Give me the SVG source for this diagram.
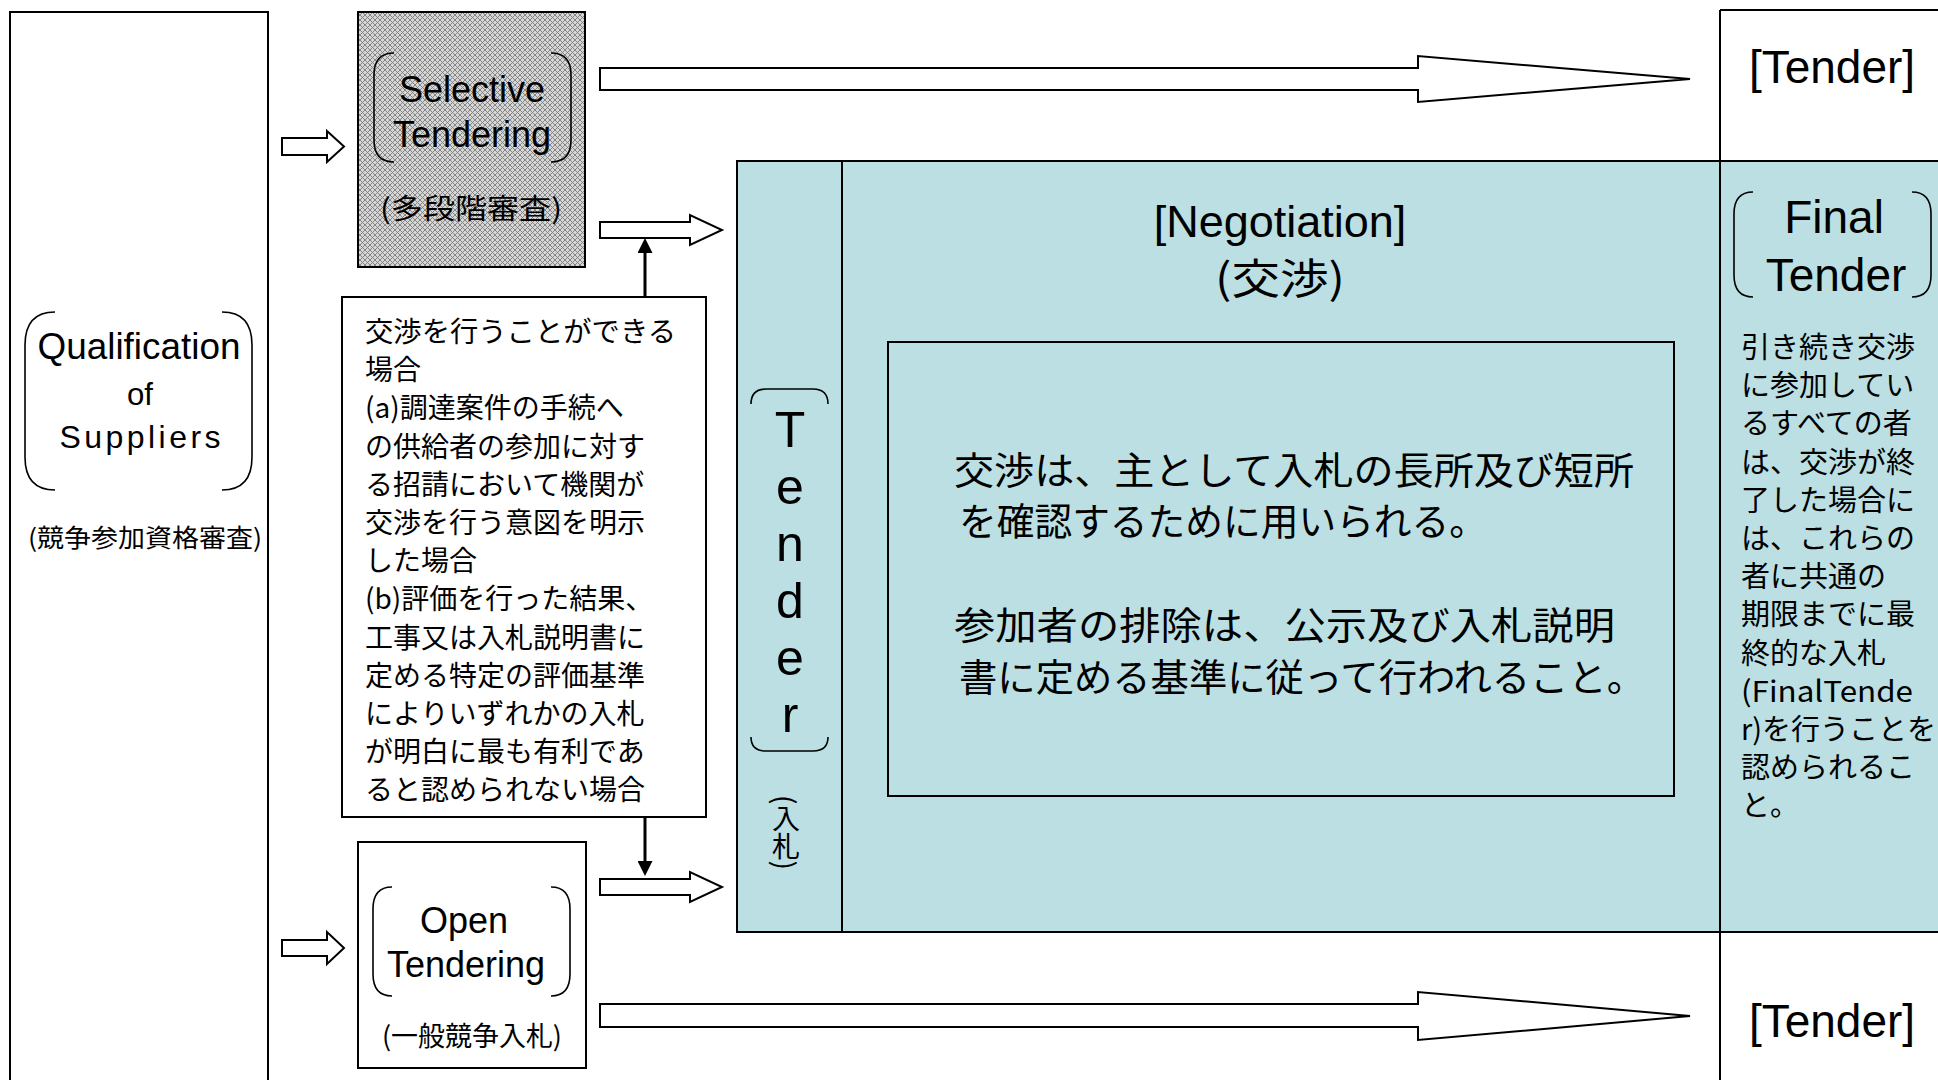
<svg xmlns="http://www.w3.org/2000/svg" width="1938" height="1080" viewBox="0 0 1938 1080">
<defs>
<pattern id="hatch" width="5" height="5" patternUnits="userSpaceOnUse">
<rect width="5" height="5" fill="#d6d6d6"/>
<path d="M0,0 L5,5 M5,0 L0,5" stroke="#7c7c7c" stroke-width="0.9"/>
</pattern>
<marker id="ah" viewBox="0 0 15 15" refX="5" refY="7.5" markerWidth="15" markerHeight="15" markerUnits="userSpaceOnUse" orient="auto"><path d="M0,0 L15,7.5 L0,15 z" fill="#000"/></marker>
</defs>
<style>
.box{fill:#fff;stroke:#000;stroke-width:2}
.ln{fill:none;stroke:#000;stroke-width:2}
.br{fill:none;stroke:#000;stroke-width:1.6}
.blk{fill:#fff;stroke:#000;stroke-width:2;stroke-linejoin:miter}
.en{font-family:"Liberation Sans",Arial,sans-serif;fill:#000}
.jp{font-family:"Noto Sans CJK JP","Noto Sans CJK SC",sans-serif;fill:#000}
.mid{text-anchor:middle}
</style>
<rect width="1938" height="1080" fill="#fff"/>

<g id="negotiation">
<rect x="737" y="161" width="1220" height="771" fill="#bbdfe2" stroke="#000" stroke-width="2"/>
<line class="ln" x1="842" y1="161" x2="842" y2="932"/>
<text class="en mid" x="1280" y="237" font-size="45">[Negotiation]</text>
<text class="jp mid" x="1280" y="294" font-size="42" textLength="130" lengthAdjust="spacingAndGlyphs">(交渉)</text>
</g>

<g id="tender-column">
<path class="br" d="M751,404 Q751,389 766,389 H813 Q828,389 828,404"/>
<path class="br" d="M751,737 Q751,751 766,751 H813 Q828,751 828,737"/>
<text class="en mid" x="790" font-size="50"><tspan x="790" y="447">T</tspan><tspan x="790" y="504">e</tspan><tspan x="790" y="561">n</tspan><tspan x="790" y="618">d</tspan><tspan x="790" y="675">e</tspan><tspan x="790" y="732">r</tspan></text>
<text class="jp" x="786" y="795" font-size="28" writing-mode="vertical-rl">(入札)</text>
</g>

<g id="negotiation-rules">
<rect x="888" y="342" width="786" height="454" fill="none" stroke="#000" stroke-width="2"/>
<text class="jp" font-size="38">
<tspan x="954" y="484" textLength="680" lengthAdjust="spacingAndGlyphs">交渉は、主として入札の長所及び短所</tspan>
<tspan x="959" y="535" textLength="528" lengthAdjust="spacingAndGlyphs">を確認するために用いられる。</tspan>
<tspan x="954" y="639" textLength="661" lengthAdjust="spacingAndGlyphs">参加者の排除は、公示及び入札説明</tspan>
<tspan x="959" y="691" textLength="686" lengthAdjust="spacingAndGlyphs">書に定める基準に従って行われること。</tspan>
</text>
</g>

<g id="tender-top">
<line class="ln" x1="1720" y1="10" x2="1940" y2="10"/>
<line class="ln" x1="1720" y1="10" x2="1720" y2="1080"/>
<text class="en mid" x="1832" y="83" font-size="46">[Tender]</text>
</g>

<g id="final-tender">
<path class="br" d="M1753,192 Q1734,192 1734,214 V275 Q1734,297 1753,297"/>
<path class="br" d="M1912,192 Q1931,192 1931,214 V275 Q1931,297 1912,297"/>
<text class="en mid" x="1834" y="233" font-size="46">Final</text>
<text class="en mid" x="1836" y="291" font-size="46">Tender</text>
<text class="jp" font-size="29">
<tspan x="1741" y="358">引き続き交渉</tspan>
<tspan x="1741" y="396.2">に参加してい</tspan>
<tspan x="1741" y="434.4">るすべての者</tspan>
<tspan x="1741" y="472.6">は、交渉が終</tspan>
<tspan x="1741" y="510.8">了した場合に</tspan>
<tspan x="1741" y="549">は、これらの</tspan>
<tspan x="1741" y="587.2">者に共通の</tspan>
<tspan x="1741" y="625.4">期限までに最</tspan>
<tspan x="1741" y="663.6">終的な入札</tspan>
<tspan x="1741" y="701.8" textLength="172" lengthAdjust="spacingAndGlyphs">(FinalTende</tspan>
<tspan x="1741" y="740">r)を行うことを</tspan>
<tspan x="1741" y="778.2">認められるこ</tspan>
<tspan x="1741" y="816.4">と。</tspan>
</text>
</g>

<g id="tender-bottom">
<text class="en mid" x="1832" y="1037" font-size="46">[Tender]</text>
</g>

<g id="qualification">
<rect x="10" y="12" width="258" height="1080" class="box"/>
<path class="br" d="M55,312 Q25,312 25,345 V457 Q25,490 55,490"/>
<path class="br" d="M222,312 Q252,312 252,345 V457 Q252,490 222,490"/>
<text class="en mid" x="139" y="359" font-size="36" textLength="203" lengthAdjust="spacingAndGlyphs">Qualification</text>
<text class="en mid" x="140" y="405" font-size="32" textLength="26" lengthAdjust="spacingAndGlyphs">of</text>
<text class="en mid" x="140" y="448" font-size="32" textLength="161" lengthAdjust="spacing">Suppliers</text>
<text class="jp mid" x="145" y="547" font-size="25" textLength="234" lengthAdjust="spacingAndGlyphs">(競争参加資格審査)</text>
</g>

<g id="selective">
<rect x="358" y="12" width="227" height="255" fill="url(#hatch)" stroke="#000" stroke-width="2"/>
<path class="br" d="M394,53 Q374,53 374,75 V140 Q374,162 394,162"/>
<path class="br" d="M551,53 Q571,53 571,75 V140 Q571,162 551,162"/>
<text class="en mid" x="472" y="102" font-size="36">Selective</text>
<text class="en mid" x="472" y="147" font-size="36">Tendering</text>
<text class="jp mid" x="471" y="219" font-size="28" textLength="182" lengthAdjust="spacingAndGlyphs">(多段階審査)</text>
</g>

<g id="conditions">
<rect x="342" y="297" width="364" height="520" class="box"/>
<text class="jp" font-size="28">
<tspan x="365" y="342" textLength="311" lengthAdjust="spacingAndGlyphs">交渉を行うことができる</tspan>
<tspan x="365" y="380.2">場合</tspan>
<tspan x="365" y="418.4">(a)調達案件の手続へ</tspan>
<tspan x="365" y="456.6">の供給者の参加に対す</tspan>
<tspan x="365" y="494.8">る招請において機関が</tspan>
<tspan x="365" y="533">交渉を行う意図を明示</tspan>
<tspan x="365" y="571.2">した場合</tspan>
<tspan x="365" y="609.4">(b)評価を行った結果、</tspan>
<tspan x="365" y="647.6">工事又は入札説明書に</tspan>
<tspan x="365" y="685.8">定める特定の評価基準</tspan>
<tspan x="365" y="724">によりいずれかの入札</tspan>
<tspan x="365" y="762.2">が明白に最も有利であ</tspan>
<tspan x="365" y="800.4">ると認められない場合</tspan>
</text>
</g>

<g id="open">
<rect x="358" y="842" width="228" height="226" class="box"/>
<path class="br" d="M392,887 Q373,887 373,909 V974 Q373,996 392,996"/>
<path class="br" d="M551,887 Q570,887 570,909 V974 Q570,996 551,996"/>
<text class="en mid" x="464" y="933" font-size="36">Open</text>
<text class="en mid" x="466" y="977" font-size="36">Tendering</text>
<text class="jp mid" x="472" y="1046" font-size="27" textLength="180" lengthAdjust="spacingAndGlyphs">(一般競争入札)</text>
</g>

<g id="connectors">
<polygon class="blk" points="282,138 327,138 327,131 344,146.5 327,162 327,155 282,155"/>
<polygon class="blk" points="282,940 327,940 327,932 344,948 327,964 327,956 282,956"/>
<polygon class="blk" points="600,68 1418,68 1418,56 1690,79 1418,102 1418,90 600,90"/>
<polygon class="blk" points="600,1004 1418,1004 1418,992 1690,1016 1418,1040 1418,1027 600,1027"/>
<polygon class="blk" points="600,222 690,222 690,215 722,230 690,245 690,238 600,238"/>
<polygon class="blk" points="600,879 690,879 690,872 722,887 690,902 690,895 600,895"/>
<line x1="645" y1="297" x2="645" y2="248" stroke="#000" stroke-width="3" marker-end="url(#ah)"/>
<line x1="645" y1="817" x2="645" y2="866" stroke="#000" stroke-width="3" marker-end="url(#ah)"/>
</g>
</svg>
